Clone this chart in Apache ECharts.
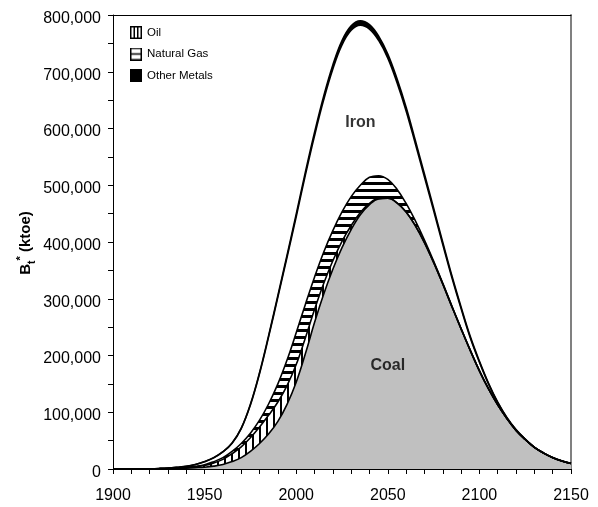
<!DOCTYPE html>
<html>
<head>
<meta charset="utf-8">
<script src="https://cdn.jsdelivr.net/npm/echarts@6/dist/echarts.min.js"></script>
<style>
    html, body { margin: 0; padding: 0; background: #fff; }
    #chart { width: 598px; height: 507px; }
</style>
</head>
<body>
<div id="chart"></div>
<script>
    // x: year, one point every 5 years
    var years = [1900, 1905, 1910, 1915, 1920, 1925, 1930, 1935, 1940, 1945,
                 1950, 1955, 1960, 1965, 1970, 1975, 1980, 1985, 1990, 1995,
                 2000, 2005, 2010, 2015, 2020, 2025, 2030, 2035, 2040, 2045,
                 2050, 2055, 2060, 2065, 2070, 2075, 2080, 2085, 2090, 2095,
                 2100, 2105, 2110, 2115, 2120, 2125, 2130, 2135, 2140, 2145, 2150];

    // layers (bottom to top), in thousands of ktoe
    var coal = [0, 0, 0.05, 0.1, 0.2, 0.35, 0.6, 1.0, 1.6, 2.3,
                3.2, 5, 8, 13, 20, 31, 45, 62, 84, 114,
                153, 203, 258, 308, 352, 390, 422, 448, 466, 476,
                477, 469, 453, 429, 399, 364, 326, 286, 247, 209,
                173, 141, 113, 89, 68, 52, 38, 28, 20, 14, 9.6];
    var oil = [0, 0, 0, 0, 0.05, 0.15, 0.3, 0.6, 1.1, 1.8,
               3, 5.5, 9, 14, 19, 24, 29, 33, 34, 33,
               31, 28, 23, 19, 15, 11, 7, 4, 2, 0.8,
               0.3, 0.1, 0, 0, 0, 0, 0, 0, 0, 0,
               0, 0, 0, 0, 0, 0, 0, 0, 0, 0, 0];
    var gas = [0, 0, 0, 0, 0.02, 0.05, 0.1, 0.2, 0.35, 0.7,
               1.3, 2.5, 3, 4, 6, 8, 12, 20, 32, 45,
               56, 59, 57, 55, 53, 52, 51, 48, 46, 40,
               33, 24, 15, 8.5, 4.5, 2.5, 1.5, 1, 0.6, 0.4,
               0.25, 0.15, 0.1, 0.05, 0.05, 0.05, 0.05, 0.05, 0.05, 0.05, 0.05];
    var iron = [0.02, 0.05, 0.07, 0.15, 0.23, 0.39, 0.68, 1.2, 1.6, 3.1,
                5.4, 6.8, 10.2, 14.5, 26.3, 49.8, 82.2, 118.6, 152.9, 181.2,
                204.5, 227.8, 249.1, 268.4, 284.9, 294.4, 293.2, 282.1, 261.2, 238.4,
                213.7, 188, 163, 136, 111, 89, 68, 50, 35, 22,
                15, 8.4, 3.7, 1.1, 0.8, 0.3, 0.2, 0.15, 0.15, 0.1, 0.15];
    var otherMetals = [0, 0, 0, 0, 0, 0.01, 0.02, 0.03, 0.05, 0.08,
                       0.13, 0.2, 0.3, 0.5, 0.75, 1.2, 1.8, 2.4, 3.1, 3.8,
                       4.5, 5.2, 5.9, 6.6, 7.1, 7.6, 7.8, 7.9, 7.8, 7.6,
                       7.3, 6.9, 6.4, 5.8, 5.2, 4.6, 4.0, 3.4, 2.9, 2.3,
                       1.9, 1.5, 1.2, 0.9, 0.7, 0.5, 0.4, 0.3, 0.2, 0.15, 0.1];

    var FONT = '"Liberation Sans", Arial, sans-serif';

    // running totals so each layer can be drawn down to zero, top layer first
    var layers = [coal, oil, gas, iron, otherMetals];
    var tops = [];
    var run = years.map(function () { return 0; });
    layers.forEach(function (l) {
        run = run.map(function (v, i) { return v + l[i]; });
        tops.push(run);
    });

    // hatch fills
    function stripes(w, h, vertical, thick) {
        var c = document.createElement('canvas');
        c.width = w; c.height = h;
        var g = c.getContext('2d');
        g.fillStyle = '#fff'; g.fillRect(0, 0, w, h);
        g.fillStyle = '#000';
        if (vertical) g.fillRect(0, 0, thick, h); else g.fillRect(0, 0, w, thick);
        return c;
    }

    // legend boxes
    function legendIcon(kind) {
        var c = document.createElement('canvas');
        c.width = 12; c.height = 13;
        var g = c.getContext('2d');
        g.fillStyle = kind == 'solid' ? '#000' : '#fff';
        g.fillRect(0, 0, 12, 13);
        g.strokeStyle = '#000';
        g.lineWidth = 1.5;
        g.strokeRect(0.75, 0.75, 10.5, 11.5);
        if (kind == 'vertical') {
            g.beginPath(); g.moveTo(4.25, 0); g.lineTo(4.25, 13);
            g.moveTo(7.75, 0); g.lineTo(7.75, 13); g.stroke();
        } else if (kind == 'horizontal') {
            g.beginPath(); g.moveTo(0, 6.5); g.lineTo(12, 6.5); g.stroke();
        }
        return 'image://' + c.toDataURL();
    }

    function layer(name, idx, fill) {
        return {
            name: name,
            type: 'line',
            smooth: 0.4,
            symbol: 'none',
            data: years.map(function (y, i) { return [y, tops[idx][i] * 1000]; }),
            lineStyle: {color: '#000', width: 1.6},
            itemStyle: {color: '#000'},
            areaStyle: {color: fill, opacity: 1, origin: 'start'}
        };
    }

    var chart = echarts.init(document.getElementById('chart'));
    var option = {
        animation: false,
        textStyle: {fontFamily: FONT},
        grid: {left: 113, right: 27, top: 15, bottom: 38},
        // y axis title, B subscript t superscript *
        graphic: [{
            type: 'text',
            x: 26,
            y: 243,
            rotation: Math.PI / 2,
            style: {
                text: '{b|B}{sub|t}{sup|*}{b| (ktoe)}',
                align: 'center',
                verticalAlign: 'middle',
                rich: {
                    b: {fontSize: 15, fontWeight: 'bold', fontFamily: FONT, fill: '#000', lineHeight: 22},
                    sub: {fontSize: 10, fontWeight: 'bold', fontFamily: FONT, fill: '#000', lineHeight: 10, verticalAlign: 'bottom'},
                    sup: {fontSize: 11, fontWeight: 'bold', fontFamily: FONT, fill: '#000', lineHeight: 11, verticalAlign: 'top'}
                }
            }
        }],
        legend: {
            orient: 'vertical',
            left: 125,
            top: 21,
            itemWidth: 12,
            itemHeight: 13,
            itemGap: 8.5,
            textStyle: {fontFamily: FONT, fontSize: 11.5, color: '#000'},
            data: [
                {name: 'Oil', icon: legendIcon('vertical')},
                {name: 'Natural Gas', icon: legendIcon('horizontal')},
                {name: 'Other Metals', icon: legendIcon('solid')}
            ]
        },
        xAxis: [{
            type: 'value',
            min: 1900,
            max: 2150,
            interval: 50,
            axisLine: {lineStyle: {color: '#000', width: 1}},
            axisTick: {length: 5, lineStyle: {color: '#000'}},
            minorTick: {show: true, splitNumber: 5, length: 5, lineStyle: {color: '#000'}},
            splitLine: {show: false},
            axisLabel: {
                color: '#000', fontSize: 16, fontFamily: FONT, margin: 19,
                formatter: function (v) { return String(v); }
            }
        }, {
            type: 'value',
            position: 'top',
            min: 1900,
            max: 2150,
            axisLine: {show: true, onZero: false, lineStyle: {color: '#000', width: 1}},
            axisTick: {show: false},
            axisLabel: {show: false},
            splitLine: {show: false}
        }],
        yAxis: [{
            type: 'value',
            min: 0,
            max: 800000,
            interval: 100000,
            axisLine: {show: true, lineStyle: {color: '#000', width: 1}},
            axisTick: {show: true, length: 5, lineStyle: {color: '#000'}},
            minorTick: {show: true, splitNumber: 2, length: 5, lineStyle: {color: '#000'}},
            splitLine: {show: false},
            axisLabel: {
                color: '#000', fontFamily: FONT, margin: 12,
                formatter: function (v) { return '{v|' + v.toLocaleString('en-US') + '}'; },
                rich: {v: {fontSize: 16, fontFamily: FONT, color: '#000', padding: [7, 0, 0, 0]}}
            }
        }, {
            type: 'value',
            position: 'right',
            min: 0,
            max: 800000,
            axisLine: {show: true, onZero: false, lineStyle: {color: '#808080', width: 2}},
            axisTick: {show: false},
            axisLabel: {show: false},
            splitLine: {show: false}
        }],
        // top layer first so each lower layer paints over it
        series: [
            layer('Other Metals', 4, '#000'),
            layer('Iron', 3, '#fff'),
            layer('Natural Gas', 2, {image: stripes(8, 7, false, 3), repeat: 'repeat'}),
            layer('Oil', 1, {image: stripes(7, 8, true, 2), repeat: 'repeat'}),
            layer('Coal', 0, '#c0c0c0'),
            {
                name: 'labels',
                type: 'scatter',
                silent: true,
                symbolSize: 0,
                z: 10,
                data: [
                    {name: 'Iron', value: [2035, 610000]},
                    {name: 'Coal', value: [2050, 183000]}
                ],
                label: {
                    show: true, position: 'inside', formatter: '{b}',
                    color: '#000', fontSize: 16, fontWeight: 'bold', fontFamily: FONT
                }
            }
        ]
    };
    chart.setOption(option);
</script>
</body>
</html>
